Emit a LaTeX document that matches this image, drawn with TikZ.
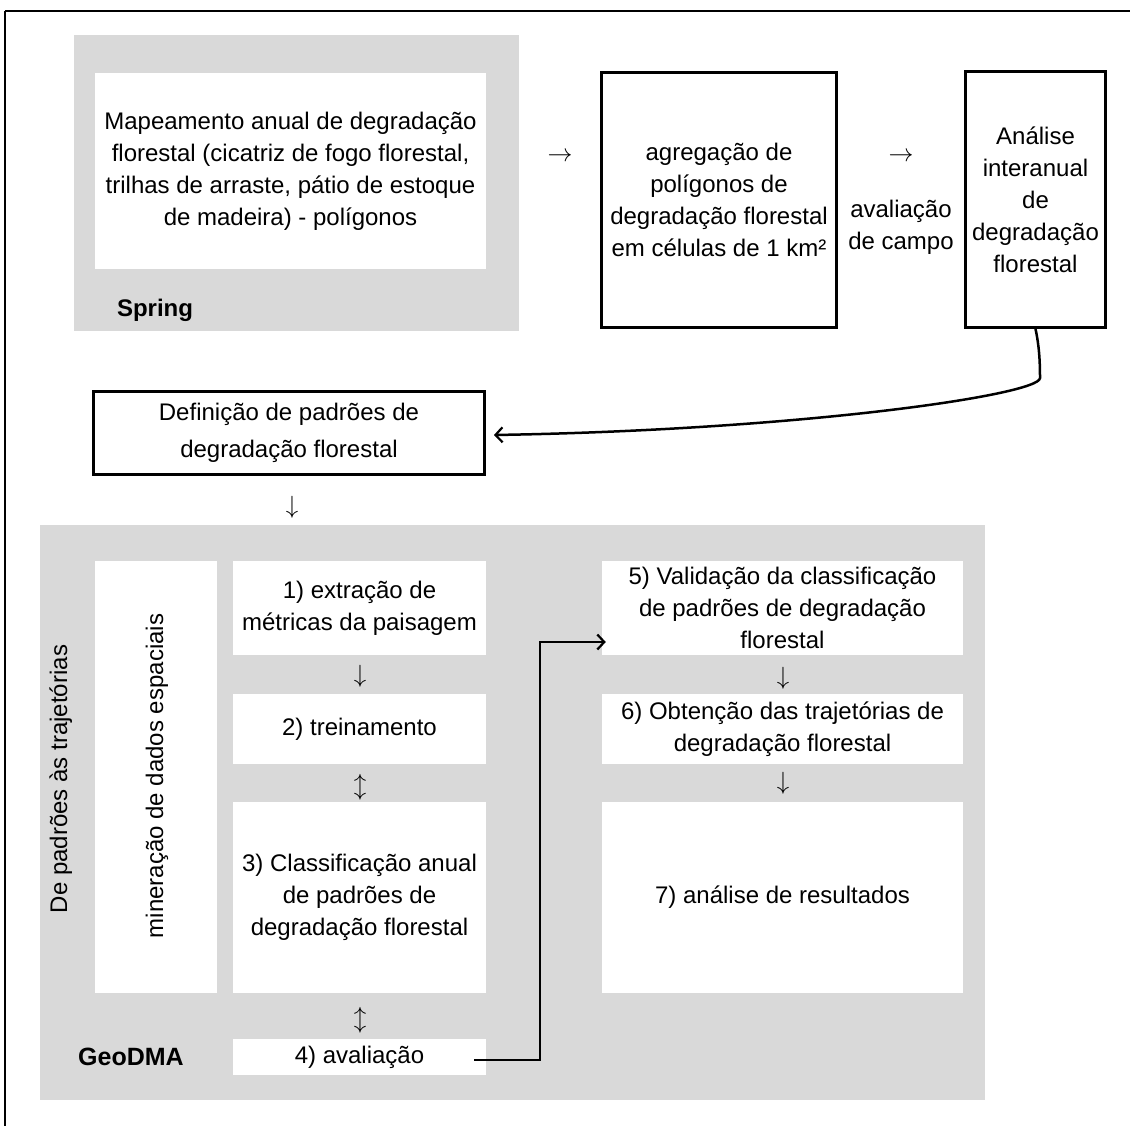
\documentclass[tikz,border=0pt]{standalone}
\usepackage{fontspec}
\setmainfont{Liberation Sans}
\usetikzlibrary{arrows.meta}
\definecolor{graybg}{RGB}{217,217,217}
\newcommand\mainfs{\fontsize{24}{32}\selectfont}
\newcommand\arrfs{\fontsize{26}{26}\selectfont}
\newcommand\harrfs{\fontsize{31}{31}\selectfont}
\tikzset{
  grayarea/.style={fill=graybg, draw=none, inner sep=0pt},
  whitebox/.style={fill=white, draw=none, inner sep=0pt, align=center, font=\mainfs},
  thickbox/.style={draw=black, line width=3pt, fill=white, inner sep=0pt, align=center, font=\mainfs},
  txt/.style={inner sep=0pt, align=center, font=\mainfs},
  vtxt/.style={inner sep=0pt, rotate=90, anchor=base, font=\mainfs},
  glyph/.style={inner sep=0pt, font=\arrfs},
  hglyph/.style={inner sep=0pt, font=\harrfs},
  conn/.style={draw=black, line width=2.5pt, -{Straight Barb[length=7pt,width=15pt,line width=2.2pt]}},
  frameline/.style={draw=black, line width=1.8pt},
}
\begin{document}
\begin{tikzpicture}[x=1pt,y=-1pt]
\useasboundingbox (0,0) rectangle (1130,1126);
% outer frame (top and left edges)
\draw[frameline] (5,11) -- (1130,11);
\draw[frameline] (5,11) -- (5,1126);

% ---- top row ----
\node[grayarea, minimum width=445pt, minimum height=296pt] (springbg) at (296.5,183) {};
\node[whitebox, minimum width=391pt, minimum height=196pt] (map) at (290.5,171)
  {Mapeamento anual de degradação\\florestal (cicatriz de fogo florestal,\\trilhas de arraste, pátio de estoque\\de madeira) - polígonos};
\node[txt, font=\mainfs\bfseries] (spring) at (155,310) {Spring};

\node[hglyph] (ar1) at (560,157) {$\rightarrow$};

\node[thickbox, minimum width=235pt, minimum height=255pt] (agr) at (719,200)
  {agregação de\\polígonos de\\degradação florestal\\em células de 1 km²};

\node[hglyph] (ar2) at (901,157) {$\rightarrow$};
\node[txt] (campo) at (901,227) {avaliação\\de campo};

\node[thickbox, minimum width=140pt, minimum height=256pt] (an) at (1035.5,199.5)
  {Análise\\interanual\\de\\degradação\\florestal};

% ---- definition ----
\node[thickbox, minimum width=391pt, minimum height=83pt, font=\fontsize{24}{37}\selectfont] (def) at (289,433)
  {Definição de padrões de\\degradação florestal};
\coordinate (deftip) at ([xshift=8pt,yshift=-2pt]def.east);
\draw[conn] (an.south) .. controls (1039,345) and (1040,360) .. (1040,378)
  .. controls (1040,395) and (800,430) .. (deftip);

\node[glyph] (ar3) at (292,507) {$\downarrow$};

% ---- lower area ----
\node[grayarea, minimum width=945pt, minimum height=575pt] (geobg) at (512.5,812.5) {};
\node[whitebox, minimum width=122pt, minimum height=432pt] (minbox) at (156,777) {};
\node[vtxt] (min) at (163,776) {mineração de dados espaciais};
\node[vtxt] (traj) at (67,779) {De padrões às trajetórias};

\node[whitebox, minimum width=253pt, minimum height=94pt] (b1) at (359.5,608)
  {1) extração de\\métricas da paisagem};
\node[glyph] (ar4) at (360,676) {$\downarrow$};
\node[whitebox, minimum width=253pt, minimum height=70pt] (b2) at (359.5,729)
  {2) treinamento};
\node[glyph] (ar5) at (360,787) {$\updownarrow$};
\node[whitebox, minimum width=253pt, minimum height=191pt] (b3) at (359.5,897.5)
  {3) Classificação anual\\de padrões de\\degradação florestal};
\node[glyph] (ar6) at (360,1020) {$\updownarrow$};
\node[whitebox, minimum width=253pt, minimum height=36pt] (b4) at (359.5,1057)
  {4) avaliação};
\node[txt, font=\fontsize{25}{32}\selectfont\bfseries] (geodma) at (131,1057) {GeoDMA};

\node[whitebox, minimum width=361pt, minimum height=94pt] (b5) at (782.5,608)
  {5) Validação da classificação\\de padrões de degradação\\florestal};
\node[glyph] (ar7) at (783,678) {$\downarrow$};
\node[whitebox, minimum width=361pt, minimum height=70pt] (b6) at (782.5,729)
  {6) Obtenção das trajetórias de\\degradação florestal};
\node[glyph] (ar8) at (783,783) {$\downarrow$};
\node[whitebox, minimum width=361pt, minimum height=191pt] (b7) at (782.5,897.5)
  {7) análise de resultados};

\coordinate (b5tip) at ([xshift=4pt,yshift=-34pt]b5.west);
\draw[conn] ([xshift=-12pt,yshift=-3pt]b4.east) -- ++(66,0) |- (b5tip);
\end{tikzpicture}
\end{document}
